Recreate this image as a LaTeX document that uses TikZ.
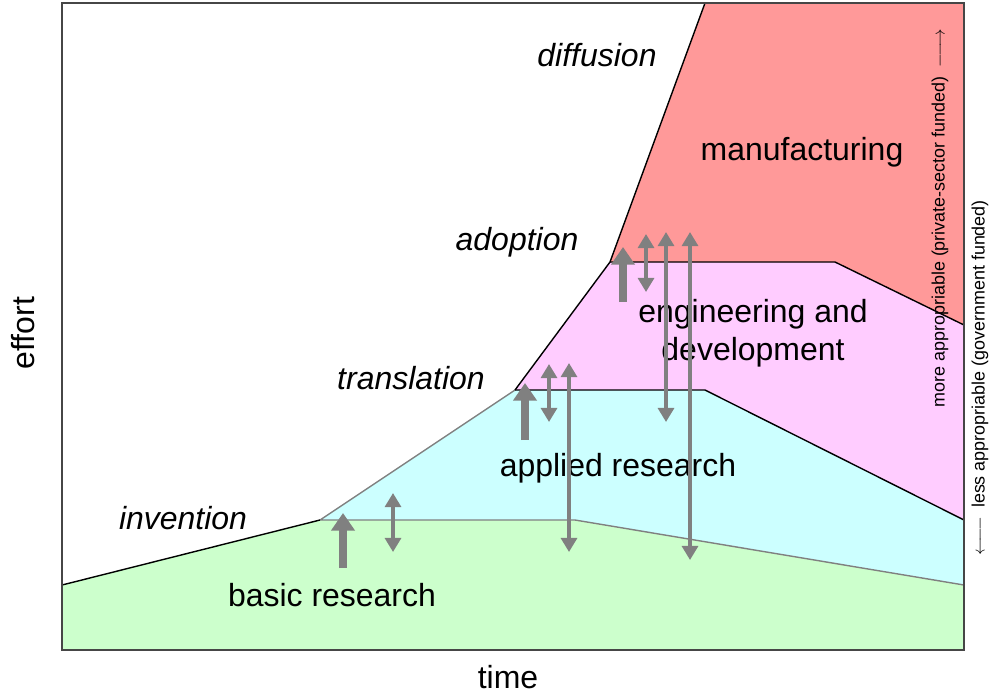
\documentclass[tikz,border=0pt]{standalone}
\usepackage{fontspec}
\setmainfont{Liberation Sans}
\usetikzlibrary{arrows.meta}
\definecolor{manucolor}{RGB}{255,153,153}
\definecolor{engcolor}{RGB}{255,204,255}
\definecolor{applcolor}{RGB}{204,255,255}
\definecolor{basiccolor}{RGB}{204,255,204}
\definecolor{arrowcolor}{RGB}{128,128,128}
\definecolor{framecolor}{RGB}{70,70,70}

\begin{document}
\begin{tikzpicture}[
    x=0.02cm, y=-0.02cm,
    stage/.style={font=\fontsize{18.2}{22}\selectfont\itshape, anchor=base},
    area/.style={font=\fontsize{18.2}{21.6}\selectfont, anchor=base, align=center},
    axis/.style={font=\fontsize{18.2}{22}\selectfont, anchor=base},
    side/.style={font=\fontsize{10.2}{12}\selectfont, rotate=90},
    border/.style={draw=black, line width=0.8pt, line join=round},
    softborder/.style={draw=arrowcolor, line width=0.8pt, line join=round},
    push/.style={arrowcolor, line width=4pt, -{Triangle[width=13pt,length=10pt]}},
    swap/.style={arrowcolor, line width=2pt, {Triangle[width=9pt,length=8pt]}-{Triangle[width=9pt,length=8pt]}}
    ]
\useasboundingbox (0,0) rectangle (989,694);

% corners of the plot
\coordinate (sw) at (62,650);
\coordinate (se) at (964,650);
\coordinate (nw) at (62,3);
\coordinate (ne) at (964,3);

% stage boundaries
\coordinate (inv0) at (62,585);
\coordinate (inv) at (320,520);
\coordinate (tra) at (515,390);
\coordinate (ado) at (610,262);
\coordinate (dif) at (705,3);
\coordinate (basicend) at (575,520);
\coordinate (basicr) at (964,585);
\coordinate (applend) at (705,390);
\coordinate (applr) at (964,520);
\coordinate (engend) at (835,262);
\coordinate (engr) at (964,325);

\fill[basiccolor] (sw) -- (inv0) -- (inv) -- (basicend) -- (basicr) -- (se) -- cycle;
\fill[applcolor] (inv) -- (tra) -- (applend) -- (applr) -- (basicr) -- (basicend) -- cycle;
\fill[engcolor] (tra) -- (ado) -- (engend) -- (engr) -- (applr) -- (applend) -- cycle;
\fill[manucolor] (ado) -- (dif) -- (ne) -- (engr) -- (engend) -- cycle;

\draw[softborder] (tra) -- (inv) -- (basicend) -- (basicr);
\draw[border] (inv0) -- (inv);
\draw[border] (tra) -- (ado) -- (dif);
\draw[border] (tra) -- (applend) -- (applr);
\draw[border] (ado) -- (engend) -- (engr);

\draw[framecolor, line width=1.2pt] (sw) rectangle (ne);

% labels
\node[stage] (diffusion) at (597,66) {diffusion};
\node[stage] (adoption) at (517,250) {adoption};
\node[stage] (translation) at (411,389) {translation};
\node[stage] (invention) at (183,529) {invention};

\node[area] (manufacturing) at (802,160) {manufacturing};
\node[area] (engineering) at (753,360) {engineering and\\development};
\node[area] (applied) at (618,476) {applied research};
\node[area] (basic) at (332,606) {basic research};

\node[axis] (time) at (508,688) {time};
\node[axis, rotate=90] (effort) at (34,333) {effort};

\node[side] (more) at (940,218) {more appropriable (private-sector funded)\enspace$\relbar\joinrel\longrightarrow$};
\node[side] (less) at (980,378) {$\longleftarrow\joinrel\relbar$\enspace less appropriable (government funded)};

% transfer arrows
\foreach \x/\from/\to in {343/568/513, 525/440/383, 623/302/247}
    \draw[push] (\x,\from) -- (\x,\to);
\foreach \x/\from/\to in {393/493/552, 549/364/422, 646/234/292, 569/363/552, 666/232/422, 690/232/560}
    \draw[swap] (\x,\from) -- (\x,\to);

\end{tikzpicture}
\end{document}
